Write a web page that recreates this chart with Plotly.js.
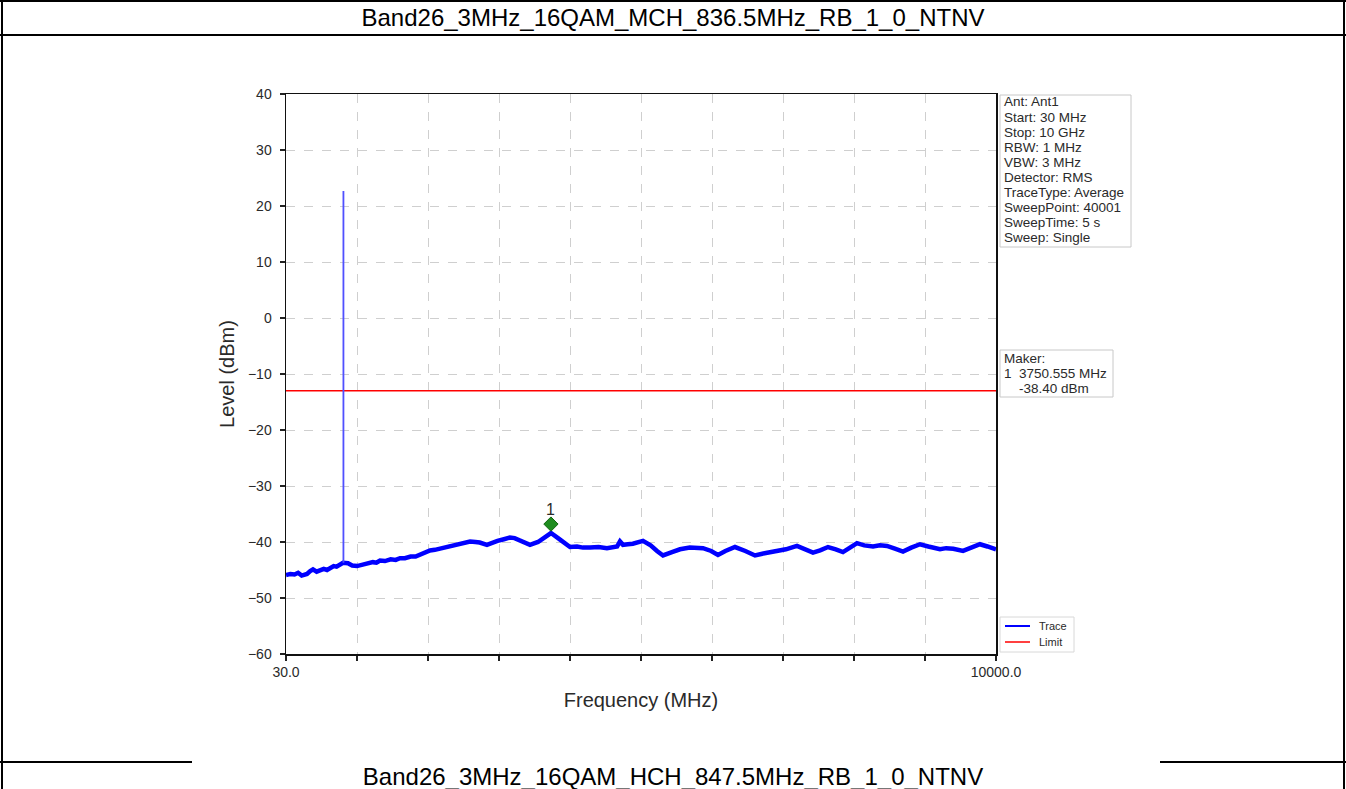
<!DOCTYPE html>
<html>
<head>
<meta charset="utf-8">
<script src="https://cdn.plot.ly/plotly-3.0.1.min.js"></script>
<style>
  html, body { margin: 0; padding: 0; background: #ffffff; }
  #page { position: relative; width: 1346px; height: 789px; overflow: hidden; background: #fff; }
  #chart { position: absolute; left: 0; top: 0; width: 1346px; height: 789px; }
  .rule { position: absolute; background: #000; }
  .doctitle { position: absolute; left: 0; width: 1346px; text-align: center;
              font-family: "Liberation Sans", Arial, sans-serif; font-size: 24px; color: #000; line-height: 28px; }
</style>
</head>
<body>
<div id="page">
  <div id="chart"></div>
  <div class="rule" style="left:0;top:0;width:1346px;height:2px;"></div>
  <div class="rule" style="left:0;top:34px;width:1346px;height:2px;"></div>
  <div class="rule" style="left:1px;top:0;width:2px;height:789px;"></div>
  <div class="rule" style="left:1343px;top:0;width:2px;height:789px;"></div>
  <div class="rule" style="left:0;top:761px;width:192px;height:2px;"></div>
  <div class="rule" style="left:1160px;top:761px;width:186px;height:2px;"></div>
  <div class="doctitle" id="t1" style="top:4px;"></div>
  <div class="doctitle" id="t2" style="top:763px;"></div>
</div>
<script>
// ---------------- data ----------------
const pageTitles = ["Band26_3MHz_16QAM_MCH_836.5MHz_RB_1_0_NTNV", "Band26_3MHz_16QAM_HCH_847.5MHz_RB_1_0_NTNV"];

const freqMHz = [30, 90, 150, 200, 250, 290, 325, 370, 409, 460, 500, 560, 606, 650, 700, 740, 780, 830, 900, 960, 1027,
  1090, 1150, 1200, 1250, 1300, 1350, 1420, 1500, 1570, 1631, 1700, 1780, 1850, 1912, 1980,
  2052, 2120, 2180, 2240, 2291, 2370, 2450, 2530, 2614, 2690, 2750, 2852, 2930, 3000, 3090, 3175, 3240, 3300, 3380, 3456,
  3569, 3650, 3750.555, 3850, 3940, 4018, 4116, 4200, 4300, 4420,
  4537, 4620, 4680, 4720, 4762, 4830, 4900, 5043, 5150, 5240, 5324, 5450, 5563, 5700, 5886, 6000, 6096, 6200, 6335, 6480, 6616, 6750, 6868,
  7050, 7205, 7300, 7430, 7530, 7641, 7750, 7851, 7950, 8048, 8150, 8273, 8370, 8469, 8580, 8694, 8810, 8933, 9050, 9213, 9300, 9400, 9537, 9650, 9775, 9880, 10000];
const levelDbm = [-45.9, -45.7, -45.8, -45.5, -46.0, -45.8, -45.7, -45.2, -44.9, -45.3, -45.1, -44.8, -45.0, -44.6, -44.3, -44.4, -44.0, -43.7, -43.8, -44.2, -44.3,
  -44.1, -44.0, -43.8, -43.6, -43.7, -43.3, -43.4, -43.1, -43.2, -42.9, -42.9, -42.6, -42.6, -42.3, -42.0,
  -41.5, -41.4, -41.2, -41.1, -40.8, -40.6, -40.3, -40.2, -39.9, -40.0, -40.1, -40.5, -40.1, -39.8, -39.5, -39.2, -39.3, -39.6, -40.1, -40.5,
  -40.0, -39.2, -38.4, -39.3, -40.2, -40.9, -40.8, -41.0, -41.0, -40.9,
  -41.1, -40.9, -40.8, -39.9, -40.5, -40.4, -40.3, -39.8, -40.6, -41.6, -42.4, -41.8, -41.3, -41.0, -41.1, -41.6, -42.3, -41.6, -40.9, -41.6, -42.4, -42.0, -41.7,
  -41.3, -40.7, -41.2, -41.9, -41.5, -40.9, -41.3, -41.8, -41.0, -40.2, -40.6, -40.8, -40.6, -40.7, -41.2, -41.7, -41.0, -40.4, -40.8, -41.3, -41.1, -41.2, -41.6, -41.0, -40.4, -40.8, -41.3];

const spikeFreq = [836.5, 836.5];
const spikeLevel = [-43.7, 22.7];

const limitFreq = [30, 10000];
const limitLevel = [-13, -13];

const markerFreq = [3750.555];
const markerPlotLevel = [-36.8];
const markerLabel = "1";

const xTickVals = [30, 1027, 2024, 3021, 4018, 5015, 6012, 7009, 8006, 9003, 10000];
const xTickText = ["30.0", "", "", "", "", "", "", "", "", "", "10000.0"];
const yTickVals = [-60, -50, -40, -30, -20, -10, 0, 10, 20, 30, 40];

const infoLines = ["Ant: Ant1", "Start: 30 MHz", "Stop: 10 GHz", "RBW: 1 MHz", "VBW: 3 MHz", "Detector: RMS",
  "TraceType: Average", "SweepPoint: 40001", "SweepTime: 5 s", "Sweep: Single"];
const makerLines = ["Maker:", "1  3750.555 MHz", "    -38.40 dBm"];
const legendNames = ["Trace", "Limit"];
const legendColors = ["#0000ff", "#ff0000"];

// ---------------- layout helpers ----------------
document.getElementById('t1').textContent = pageTitles[0];
document.getElementById('t2').textContent = pageTitles[1];

const L = 286, R = 996, T = 94, B = 654;
const px = p => (p - L) / (R - L);
const py = p => (B - p) / (B - T);
const FONT = '"Liberation Sans", Arial, sans-serif';
const TXT = '#2a2a2a';

const annotations = [];
const shapes = [];

// info box
shapes.push({type: 'rect', xref: 'paper', yref: 'paper', x0: px(1000), x1: px(1131), y0: py(247), y1: py(95),
  line: {color: '#c8c8c8', width: 1}, fillcolor: '#ffffff', layer: 'above'});
infoLines.forEach((t, i) => annotations.push({xref: 'paper', yref: 'paper', x: px(1002), y: py(102 + i * 15.1),
  xanchor: 'left', yanchor: 'middle', text: t, showarrow: false, font: {family: FONT, size: 13.5, color: TXT}}));

// maker box
shapes.push({type: 'rect', xref: 'paper', yref: 'paper', x0: px(1000), x1: px(1113), y0: py(397), y1: py(350),
  line: {color: '#c8c8c8', width: 1}, fillcolor: '#ffffff', layer: 'above'});
makerLines.forEach((t, i) => annotations.push({xref: 'paper', yref: 'paper', x: px(1002), y: py(358 + i * 15),
  xanchor: 'left', yanchor: 'middle', text: t.replace(/ /g, '&nbsp;'), showarrow: false, font: {family: FONT, size: 13.5, color: TXT}}));

// legend box (drawn to match the compact reference legend)
shapes.push({type: 'rect', xref: 'paper', yref: 'paper', x0: px(1000), x1: px(1074), y0: py(652), y1: py(617),
  line: {color: '#d8d8d8', width: 1}, fillcolor: '#ffffff', layer: 'above'});
legendNames.forEach((n, i) => {
  const yy = 626 + i * 16;
  shapes.push({type: 'line', xref: 'paper', yref: 'paper', x0: px(1005), x1: px(1030), y0: py(yy), y1: py(yy),
    line: {color: legendColors[i], width: i === 0 ? 2 : 1.5}, layer: 'above'});
  annotations.push({xref: 'paper', yref: 'paper', x: px(1037), y: py(yy), xanchor: 'left', yanchor: 'middle',
    text: n, showarrow: false, font: {family: FONT, size: 11, color: TXT}});
});

// marker number label
annotations.push({x: markerFreq[0], y: markerPlotLevel[0], xref: 'x', yref: 'y', text: markerLabel, showarrow: false,
  yshift: 15, font: {family: FONT, size: 16, color: TXT}});

const traces = [
  {x: freqMHz, y: levelDbm, type: 'scatter', mode: 'lines', name: legendNames[0],
   line: {color: legendColors[0], width: 4.5}},
  {x: limitFreq, y: limitLevel, type: 'scatter', mode: 'lines', name: legendNames[1],
   line: {color: legendColors[1], width: 1.5}},
  {x: spikeFreq, y: spikeLevel, type: 'scatter', mode: 'lines', name: 'Trace peak',
   line: {color: '#5050ff', width: 1.8}},
  {x: markerFreq, y: markerPlotLevel, type: 'scatter', mode: 'markers', name: 'Marker 1',
   marker: {symbol: 'diamond', size: 11, color: '#1e8c1e', line: {color: '#116611', width: 1}}}
];

const layout = {
  width: 1346, height: 789,
  margin: {l: L, r: 1346 - R, t: T, b: 789 - B, pad: 0},
  paper_bgcolor: 'rgba(0,0,0,0)',
  plot_bgcolor: '#ffffff',
  font: {family: FONT, color: TXT},
  showlegend: false,
  xaxis: {
    range: [30, 10000], autorange: false,
    tickmode: 'array', tickvals: xTickVals, ticktext: xTickText,
    ticks: 'outside', ticklen: 5, tickwidth: 1.2, tickcolor: '#222',
    tickfont: {family: FONT, size: 14, color: TXT},
    showgrid: true, gridcolor: '#cfcfcf', gridwidth: 1, griddash: 'dash',
    showline: true, linecolor: '#111', linewidth: 1.5, mirror: true, zeroline: false,
    title: {text: 'Frequency (MHz)', font: {family: FONT, size: 20, color: TXT}, standoff: 13}
  },
  yaxis: {
    range: [-60, 40], autorange: false,
    tickmode: 'array', tickvals: yTickVals,
    ticks: 'outside', ticklen: 5, tickwidth: 1.2, tickcolor: '#222',
    ticklabelstandoff: 5,
    tickfont: {family: FONT, size: 14, color: TXT},
    showgrid: true, gridcolor: '#cfcfcf', gridwidth: 1, griddash: 'dash',
    showline: true, linecolor: '#111', linewidth: 1.5, mirror: true, zeroline: false,
    title: {text: 'Level (dBm)', font: {family: FONT, size: 20, color: TXT}, standoff: 8}
  },
  annotations: annotations,
  shapes: shapes
};

Plotly.newPlot('chart', traces, layout, {displayModeBar: false, staticPlot: true});
</script>
</body>
</html>
